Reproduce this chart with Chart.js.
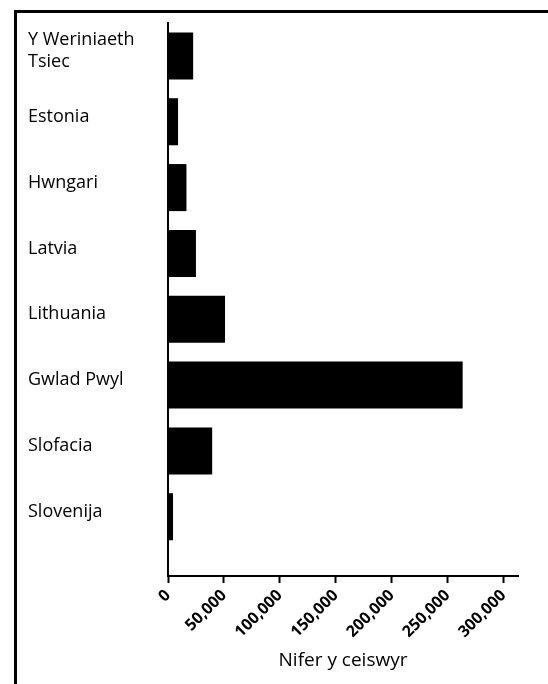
<!DOCTYPE html>
<html>
<head>
<meta charset="utf-8">
<script src="https://cdn.jsdelivr.net/npm/chart.js@4/dist/chart.umd.min.js"></script>
<style>
  html, body { margin: 0; padding: 0; background: #fff; }
  body { width: 548px; height: 684px; position: relative; overflow: hidden; }
  /* ffrâm ddu ar y brig a'r chwith yn unig */
  #frame {
    position: absolute; left: 14px; top: 10px; width: 600px; height: 700px;
    border-top: 3px solid #000; border-left: 3px solid #000;
  }
  #wrap { position: absolute; left: 0; top: 0; width: 548px; height: 684px; }
</style>
</head>
<body>
<div id="frame"></div>
<div id="wrap"><canvas id="chart" width="548" height="684"></canvas></div>
<script>
// Data y siart
const categories = [
  ['Y Weriniaeth', 'Tsiec'],
  'Estonia',
  'Hwngari',
  'Latvia',
  'Lithuania',
  'Gwlad Pwyl',
  'Slofacia',
  'Slovenija'
];
const applicants = [22500, 9000, 16500, 25000, 51000, 263500, 39500, 4500];
const xTicks = [0, 50000, 100000, 150000, 200000, 250000, 300000];
const xAxisTitle = 'Nifer y ceiswyr';

const points = applicants.map((v, i) => ({ x: v, y: i }));

new Chart(document.getElementById('chart').getContext('2d'), {
  type: 'bar',
  data: {
    datasets: [{
      data: points,
      backgroundColor: '#000',
      borderWidth: 0,
      barPercentage: 0.715,
      categoryPercentage: 1
    }]
  },
  options: {
    indexAxis: 'y',
    responsive: false,
    animation: false,
    layout: { padding: { left: 28, right: 30, top: 23, bottom: 8 } },
    plugins: { legend: { display: false }, tooltip: { enabled: false } },
    scales: {
      y: {
        type: 'linear',
        reverse: true,
        offset: false,
        min: -0.5,
        max: 7.9,
        afterBuildTicks: (s) => { s.ticks = categories.map((c, i) => ({ value: i })); },
        afterFit: (s) => { s.width = 140; },
        grid: { display: true, offset: false, drawOnChartArea: false, drawTicks: false },
        border: { color: '#000', width: 2 },
        ticks: {
          crossAlign: 'far',
          padding: 6,
          labelOffset: -5,
          color: '#000',
          font: { family: "'Open Sans', sans-serif", size: 18 },
          callback: (v) => categories[v]
        }
      },
      x: {
        type: 'linear',
        min: 0,
        max: 313000,
        afterBuildTicks: (s) => { s.ticks = xTicks.map(v => ({ value: v })); },
        afterFit: (s) => { s.height = 100; },
        grid: { drawOnChartArea: false, drawTicks: true, tickLength: 7, color: '#000', tickWidth: 2 },
        border: { color: '#000', width: 2 },
        ticks: {
          minRotation: 45,
          maxRotation: 45,
          padding: 3,
          color: '#000',
          font: { family: "'Open Sans', sans-serif", size: 16, weight: 'bold' },
          callback: (v) => v.toLocaleString('en-US')
        },
        title: {
          display: true,
          text: xAxisTitle,
          color: '#000',
          padding: { top: 4, bottom: 4 },
          font: { family: "'Open Sans', sans-serif", size: 19 }
        }
      }
    }
  }
});
</script>
</body>
</html>
